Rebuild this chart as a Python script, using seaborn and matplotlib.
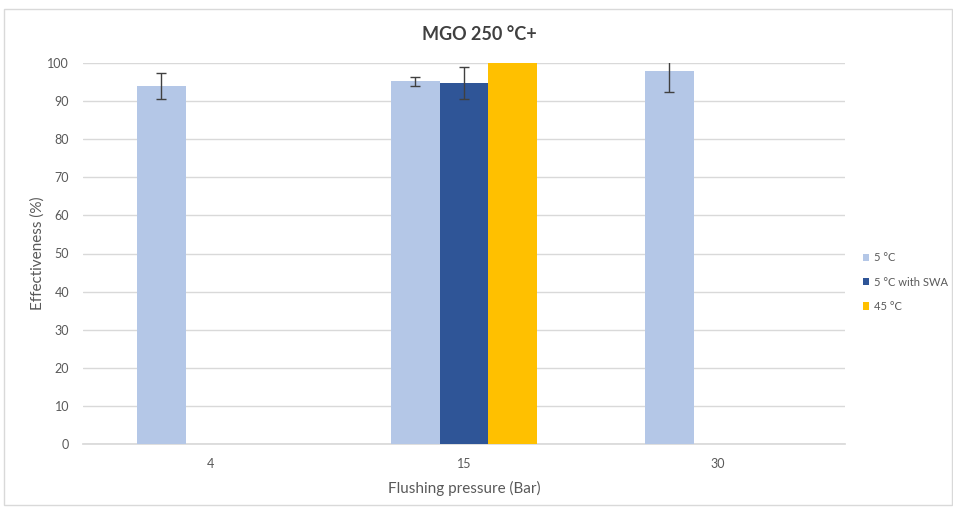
import matplotlib
matplotlib.use("Agg")
import matplotlib.pyplot as plt
import seaborn as sns
import pandas as pd
import numpy as np
from matplotlib.patches import Rectangle

pressures = ["4", "15", "30"]
series = ["5 °C", "5 °C with SWA", "45 °C"]
vals_5c = [94.0, 95.2, 97.8]
err_5c = [3.5, 1.2, 5.5]
vals_5c_swa = [np.nan, 94.7, np.nan]
err_5c_swa = [np.nan, 4.2, np.nan]
vals_45c = [np.nan, 100.0, np.nan]
err_45c = [np.nan, np.nan, np.nan]
colors = ["#b4c7e7", "#2f5597", "#ffc000"]

rows = []
for s, v, e in zip(series, [vals_5c, vals_5c_swa, vals_45c], [err_5c, err_5c_swa, err_45c]):
    for p, vv, ee in zip(pressures, v, e):
        rows.append({"Pressure": p, "Series": s, "Value": vv, "Err": ee})
df = pd.DataFrame(rows)

sns.set_theme(style="white")
plt.rcParams["font.family"] = ["Lato", "DejaVu Sans"]

fig = plt.figure(figsize=(9.54, 5.08), dpi=100)
ax = fig.add_axes([83/954, 1-444/508, (845-83)/954, (444-63)/508])

sns.barplot(data=df, x="Pressure", y="Value", hue="Series", order=pressures,
            hue_order=series, palette=colors, width=0.575, saturation=1,
            errorbar=None, ax=ax, zorder=2, linewidth=0)

# error bars placed at bar centres (match patches to categories by position)
for i, s in enumerate(series):
    cont = ax.containers[i]
    sub = df[df.Series == s].set_index("Pressure").loc[pressures]
    for bar in cont.patches:
        cx = bar.get_x() + bar.get_width() / 2
        if np.isnan(bar.get_height()):
            continue
        cat = int(round(cx))
        val = sub.Value.iloc[cat]
        err = sub.Err.iloc[cat]
        if np.isnan(val) or np.isnan(err):
            continue
        ax.errorbar(cx, val, yerr=err, fmt="none", ecolor="#404040",
                    elinewidth=1.0, capsize=3.5, capthick=1.0, zorder=3)

ax.set_ylim(0, 100)
ax.set_xlim(-0.5, 2.5)
ax.set_yticks(range(0, 101, 10))
ax.yaxis.grid(True, color="#d9d9d9", linewidth=1.0, zorder=0)
ax.set_axisbelow(True)
for sp in ["top", "right", "left"]:
    ax.spines[sp].set_visible(False)
ax.spines["bottom"].set_color("#d9d9d9")
ax.spines["bottom"].set_zorder(1)
ax.tick_params(axis="both", length=0, labelsize=9, colors="#595959", pad=10)
ax.tick_params(axis="x", pad=10)
ax.set_xlabel("Flushing pressure (Bar)", fontsize=11, color="#595959", labelpad=8)
ax.set_ylabel("Effectiveness (%)", fontsize=11, color="#595959", labelpad=2)

fig.text(0.503, 1-35/508, "MGO 250 °C+", ha="center", va="center",
         fontsize=13, fontweight="bold", color="#404040")

leg = ax.legend(loc="center left", bbox_to_anchor=(1.01, 0.425), frameon=False,
                fontsize=8, handlelength=0.6, handleheight=0.6, handletextpad=0.4,
                labelspacing=1.2, labelcolor="#595959")

fig.patches.append(Rectangle((4/954, 1-505/508), 948/954, (505-9)/508,
                             transform=fig.transFigure, fill=False,
                             edgecolor="#d9d9d9", linewidth=1.0))

fig.savefig("out.png", dpi=100, facecolor="white")
